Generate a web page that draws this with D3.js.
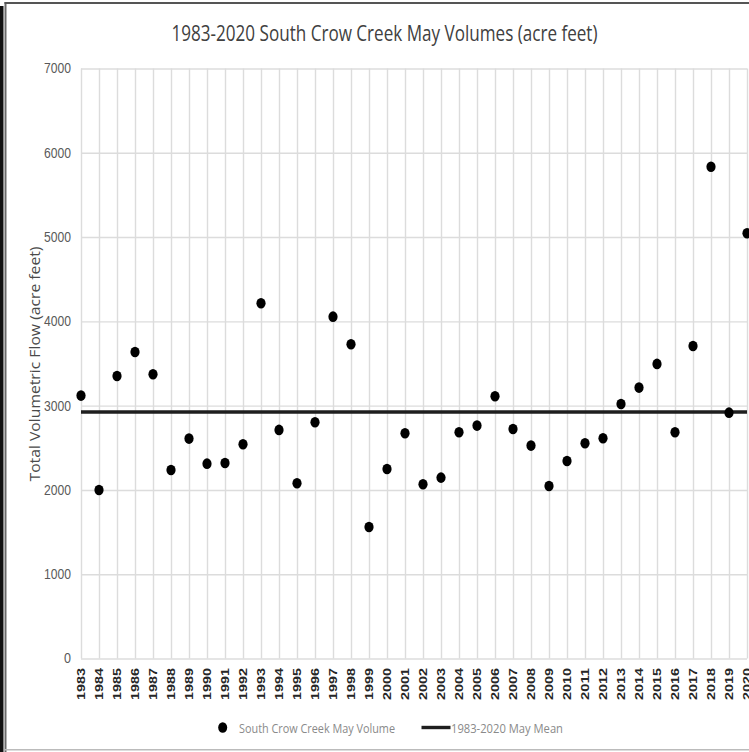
<!DOCTYPE html>
<html>
<head>
<meta charset="utf-8">
<script src="https://cdn.jsdelivr.net/npm/d3@7"></script>
<style>
  body { margin: 0; background: #fff; }
  svg { display: block; font-family: "Open Sans", "Liberation Sans", sans-serif; }
</style>
</head>
<body>
<div id="chart"></div>
<script>
// May volumes (acre feet)
const years = [1983, 1984, 1985, 1986, 1987, 1988, 1989, 1990, 1991, 1992,
               1993, 1994, 1995, 1996, 1997, 1998, 1999, 2000, 2001, 2002,
               2003, 2004, 2005, 2006, 2007, 2008, 2009, 2010, 2011, 2012,
               2013, 2014, 2015, 2016, 2017, 2018, 2019, 2020];
const volumes = [3119, 2000, 3352, 3637, 3372, 2237, 2609, 2312, 2320, 2542,
                 4214, 2712, 2079, 2803, 4056, 3728, 1561, 2249, 2672, 2067,
                 2146, 2684, 2763, 3111, 2723, 2526, 2047, 2344, 2554, 2613,
                 3020, 3214, 3495, 2684, 3708, 5835, 2917, 5045];
const meanVolume = 2925;
const yTicks = [0, 1000, 2000, 3000, 4000, 5000, 6000, 7000];

const titleText = '1983-2020 South Crow Creek May Volumes (acre feet)';
const yTitleText = 'Total Volumetric Flow (acre feet)';
const legendLabels = ['South Crow Creek May Volume', '1983-2020 May Mean'];

const W = 749, H = 752;
const plot = {left: 81, right: 747, top: 68.5, bottom: 658.5};

const svg = d3.select('#chart').append('svg')
  .attr('width', W)
  .attr('height', H);

// frame of the screenshot
svg.append('rect').attr('x', 0).attr('y', 6).attr('width', 3.5).attr('height', H - 6).attr('fill', '#111');
svg.append('rect').attr('x', 4.5).attr('y', 2).attr('width', 2).attr('height', H - 2).attr('fill', '#6a6a6a');
svg.append('rect').attr('x', 4.5).attr('y', 2).attr('width', W).attr('height', 2).attr('fill', '#555');
svg.append('rect').attr('x', 4.5).attr('y', H - 3).attr('width', W).attr('height', 1.5).attr('fill', '#bbb');

// scales
const x = d3.scalePoint()
  .domain(years)
  .range([plot.left, plot.right]);

const y = d3.scaleLinear()
  .domain([0, 7000])
  .range([plot.bottom, plot.top]);

// horizontal gridlines + y labels
const yAxis = svg.append('g')
  .attr('transform', `translate(${plot.left},0)`)
  .call(d3.axisLeft(y).tickValues(yTicks).tickSize(-(plot.right - plot.left)).tickPadding(10).tickFormat(d3.format('d')));
yAxis.select('.domain').remove();
yAxis.selectAll('line').attr('stroke', '#dcdcdc').attr('stroke-width', 1.4);
yAxis.selectAll('text')
  .attr('fill', '#595959')
  .style('font-size', '14px')
  .attr('textLength', d => d === 0 ? 7 : 27)
  .attr('lengthAdjust', 'spacingAndGlyphs');

// vertical gridlines + year labels
const xAxis = svg.append('g')
  .attr('transform', `translate(0,${plot.bottom})`)
  .call(d3.axisBottom(x).tickSize(-(plot.bottom - plot.top)).tickPadding(0));
xAxis.select('.domain').remove();
xAxis.selectAll('line').attr('stroke', '#dcdcdc').attr('stroke-width', 1.4);
xAxis.selectAll('text')
  .attr('y', 0)
  .attr('x', 0)
  .attr('transform', 'translate(0,9.5) rotate(-90)')
  .attr('dy', '0.35em')
  .style('text-anchor', 'end')
  .style('font-size', '11px')
  .style('font-weight', 'bold')
  .attr('fill', '#262626')
  .attr('textLength', 32)
  .attr('lengthAdjust', 'spacingAndGlyphs');

// mean line
svg.append('line')
  .attr('x1', x(years[0]))
  .attr('x2', x(years[years.length - 1]))
  .attr('y1', y(meanVolume))
  .attr('y2', y(meanVolume))
  .attr('stroke', '#1e1e1e')
  .attr('stroke-width', 3.6);

// points
svg.append('g')
  .selectAll('ellipse')
  .data(years)
  .join('ellipse')
  .attr('cx', d => x(d))
  .attr('cy', (d, i) => y(volumes[i]))
  .attr('rx', 4.6)
  .attr('ry', 5.3)
  .attr('fill', '#000');

// title
svg.append('text')
  .attr('x', 171.5)
  .attr('y', 40.5)
  .attr('fill', '#404040')
  .style('font-size', '21px')
  .attr('textLength', 426)
  .attr('lengthAdjust', 'spacingAndGlyphs')
  .text(titleText);

// y axis title
svg.append('text')
  .attr('transform', 'translate(39.5,481.5) rotate(-90)')
  .attr('fill', '#4a4a4a')
  .style('font-size', '15px')
  .attr('textLength', 235)
  .attr('lengthAdjust', 'spacingAndGlyphs')
  .text(yTitleText);

// legend
const legend = svg.append('g');
legend.append('ellipse')
  .attr('cx', 222.7).attr('cy', 727.5)
  .attr('rx', 4.5).attr('ry', 5.3)
  .attr('fill', '#000');
legend.append('text')
  .attr('x', 239).attr('y', 732.5)
  .attr('fill', '#8a8a8a')
  .style('font-size', '13.5px')
  .attr('textLength', 156)
  .attr('lengthAdjust', 'spacingAndGlyphs')
  .text(legendLabels[0]);
legend.append('line')
  .attr('x1', 421.5).attr('x2', 450.5)
  .attr('y1', 727.5).attr('y2', 727.5)
  .attr('stroke', '#1e1e1e')
  .attr('stroke-width', 3.4);
legend.append('text')
  .attr('x', 451).attr('y', 732.5)
  .attr('fill', '#8a8a8a')
  .style('font-size', '13.5px')
  .attr('textLength', 112)
  .attr('lengthAdjust', 'spacingAndGlyphs')
  .text(legendLabels[1]);
</script>
</body>
</html>
